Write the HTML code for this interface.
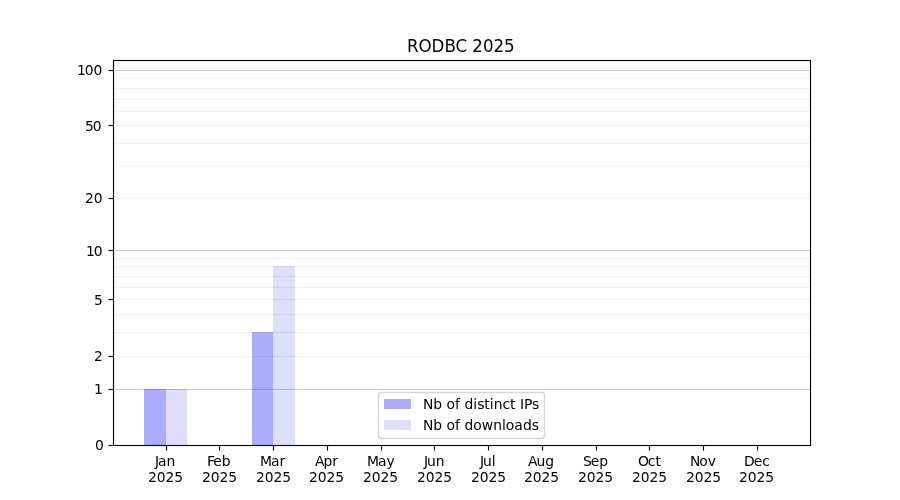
<!DOCTYPE html>
<html lang="en">
<head>
<meta charset="utf-8">
<title>RODBC 2025</title>
<style>
html,body{margin:0;padding:0;background:#fff;}
body{width:900px;height:500px;overflow:hidden;}
svg{display:block;}
text{font-family:"DejaVu Sans","Liberation Sans",sans-serif;fill:#000;}
.t{font-size:13.8889px;}
.tt{font-size:16.6667px;}
.sp{stroke:#000;stroke-width:1.111;fill:none;stroke-linecap:butt;}
.mj{stroke:#000;stroke-opacity:0.2;stroke-width:1.111;}
.mn{stroke:#000;stroke-opacity:0.06;stroke-width:1.111;}
</style>
</head>
<body>
<svg width="900" height="500" viewBox="0 0 900 500">
<rect x="0" y="0" width="900" height="500" fill="#ffffff"/>
<g id="bars">
<rect x="144" y="389" width="22" height="56" fill="#0000ff" fill-opacity="0.33"/>
<rect x="166" y="389" width="21" height="56" fill="#0000ff" fill-opacity="0.13"/>
<rect x="252" y="332" width="21" height="113" fill="#0000ff" fill-opacity="0.33"/>
<rect x="273" y="266" width="22" height="179" fill="#0000ff" fill-opacity="0.13"/>
</g>
<g id="grid">
<line class="mj" x1="112.5" x2="810" y1="389.5" y2="389.5"/>
<line class="mj" x1="112.5" x2="810" y1="250.5" y2="250.5"/>
<line class="mj" x1="112.5" x2="810" y1="70.5" y2="70.5"/>
<line class="mn" x1="112.5" x2="810" y1="356.5" y2="356.5"/>
<line class="mn" x1="112.5" x2="810" y1="332.5" y2="332.5"/>
<line class="mn" x1="112.5" x2="810" y1="314.5" y2="314.5"/>
<line class="mn" x1="112.5" x2="810" y1="299.5" y2="299.5"/>
<line class="mn" x1="112.5" x2="810" y1="287.5" y2="287.5"/>
<line class="mn" x1="112.5" x2="810" y1="276.5" y2="276.5"/>
<line class="mn" x1="112.5" x2="810" y1="266.5" y2="266.5"/>
<line class="mn" x1="112.5" x2="810" y1="258.5" y2="258.5"/>
<line class="mn" x1="112.5" x2="810" y1="198.5" y2="198.5"/>
<line class="mn" x1="112.5" x2="810" y1="166.5" y2="166.5"/>
<line class="mn" x1="112.5" x2="810" y1="143.5" y2="143.5"/>
<line class="mn" x1="112.5" x2="810" y1="125.5" y2="125.5"/>
<line class="mn" x1="112.5" x2="810" y1="111.5" y2="111.5"/>
<line class="mn" x1="112.5" x2="810" y1="99.5" y2="99.5"/>
<line class="mn" x1="112.5" x2="810" y1="88.5" y2="88.5"/>
<line class="mn" x1="112.5" x2="810" y1="78.5" y2="78.5"/>
</g>
<rect class="sp" x="113.5" y="60.5" width="697" height="385"/>
<g id="xaxis">
<line class="sp" x1="166.5" x2="166.5" y1="445.5" y2="450.5"/>
<text class="t" x="155 158 166.5" y="466">Jan</text>
<text class="t" x="148 156.75 165.5 174.25" y="482">2025</text>
<line class="sp" x1="219.5" x2="219.5" y1="445.5" y2="450.5"/>
<text class="t" x="207 213.25 221.75" y="466">Feb</text>
<text class="t" x="202 210.75 219.5 228.25" y="482">2025</text>
<line class="sp" x1="273.5" x2="273.5" y1="445.5" y2="450.5"/>
<text class="t" x="260 271 279.5" y="466">Mar</text>
<text class="t" x="256 264.75 273.5 282.25" y="482">2025</text>
<line class="sp" x1="327.5" x2="327.5" y1="445.5" y2="450.5"/>
<text class="t" x="315 323.5 332.25" y="466">Apr</text>
<text class="t" x="309 317.75 326.5 335.25" y="482">2025</text>
<line class="sp" x1="381.5" x2="381.5" y1="445.5" y2="450.5"/>
<text class="t" x="367 378 386.5" y="466">May</text>
<text class="t" x="363 371.75 380.5 389.25" y="482">2025</text>
<line class="sp" x1="434.5" x2="434.5" y1="445.5" y2="450.5"/>
<text class="t" x="424 427 435.75" y="466">Jun</text>
<text class="t" x="417 425.75 434.5 443.25" y="482">2025</text>
<line class="sp" x1="488.5" x2="488.5" y1="445.5" y2="450.5"/>
<text class="t" x="480 483 491.75" y="466">Jul</text>
<text class="t" x="471 479.75 488.5 497.25" y="482">2025</text>
<line class="sp" x1="542.5" x2="542.5" y1="445.5" y2="450.5"/>
<text class="t" x="528 536.5 545.25" y="466">Aug</text>
<text class="t" x="524 532.75 541.5 550.25" y="482">2025</text>
<line class="sp" x1="596.5" x2="596.5" y1="445.5" y2="450.5"/>
<text class="t" x="583 590.75 599.25" y="466">Sep</text>
<text class="t" x="578 586.75 595.5 604.25" y="482">2025</text>
<line class="sp" x1="649.5" x2="649.5" y1="445.5" y2="450.5"/>
<text class="t" x="638 647.75 655.5" y="466">Oct</text>
<text class="t" x="632 640.75 649.5 658.25" y="482">2025</text>
<line class="sp" x1="703.5" x2="703.5" y1="445.5" y2="450.5"/>
<text class="t" x="690 699.25 707.75" y="466">Nov</text>
<text class="t" x="686 694.75 703.5 712.25" y="482">2025</text>
<line class="sp" x1="757.5" x2="757.5" y1="445.5" y2="450.5"/>
<text class="t" x="744 753.75 762.25" y="466">Dec</text>
<text class="t" x="739 747.75 756.5 765.25" y="482">2025</text>
</g>
<g id="yaxis">
<line class="sp" x1="108.5" x2="113.5" y1="445.5" y2="445.5"/>
<text class="t" x="95" y="450">0</text>
<line class="sp" x1="108.5" x2="113.5" y1="389.5" y2="389.5"/>
<text class="t" x="94" y="394">1</text>
<line class="sp" x1="108.5" x2="113.5" y1="356.5" y2="356.5"/>
<text class="t" x="94" y="361">2</text>
<line class="sp" x1="108.5" x2="113.5" y1="299.5" y2="299.5"/>
<text class="t" x="94" y="305">5</text>
<line class="sp" x1="108.5" x2="113.5" y1="250.5" y2="250.5"/>
<text class="t" x="86 93.75" y="256">10</text>
<line class="sp" x1="108.5" x2="113.5" y1="198.5" y2="198.5"/>
<text class="t" x="85 93.75" y="203">20</text>
<line class="sp" x1="108.5" x2="113.5" y1="125.5" y2="125.5"/>
<text class="t" x="85 92.75" y="131">50</text>
<line class="sp" x1="108.5" x2="113.5" y1="70.5" y2="70.5"/>
<text class="t" x="77 84.75 93.5" y="75">100</text>
</g>
<text class="tt" x="407 418.5 431.5 444.5 455.5 467 472.25 483 493.5 504" y="52" transform="translate(0 52) scale(1 1.06) translate(0 -52)">RODBC 2025</text>
<g id="legend">
<rect x="378.5" y="392.5" width="166" height="46" rx="2.78" ry="2.78" fill="#ffffff" fill-opacity="0.8" stroke="#cccccc" stroke-opacity="0.8" stroke-width="1.389"/>
<rect x="384" y="399" width="27" height="10" fill="#0000ff" fill-opacity="0.33"/>
<text class="t" x="423 433.25 442.25 446.5 455 460 464.5 473.25 477.25 484.25 489.75 493.75 502.5 510 515.5 520 524 532" y="409">Nb of distinct IPs</text>
<rect x="384" y="420" width="27" height="10" fill="#0000ff" fill-opacity="0.13"/>
<text class="t" x="423 433.25 442.25 446.5 455 460 464.5 473.25 481.75 493.25 502 505.75 514.25 523 531.75" y="430">Nb of downloads</text>
</g>
</svg>
</body>
</html>
